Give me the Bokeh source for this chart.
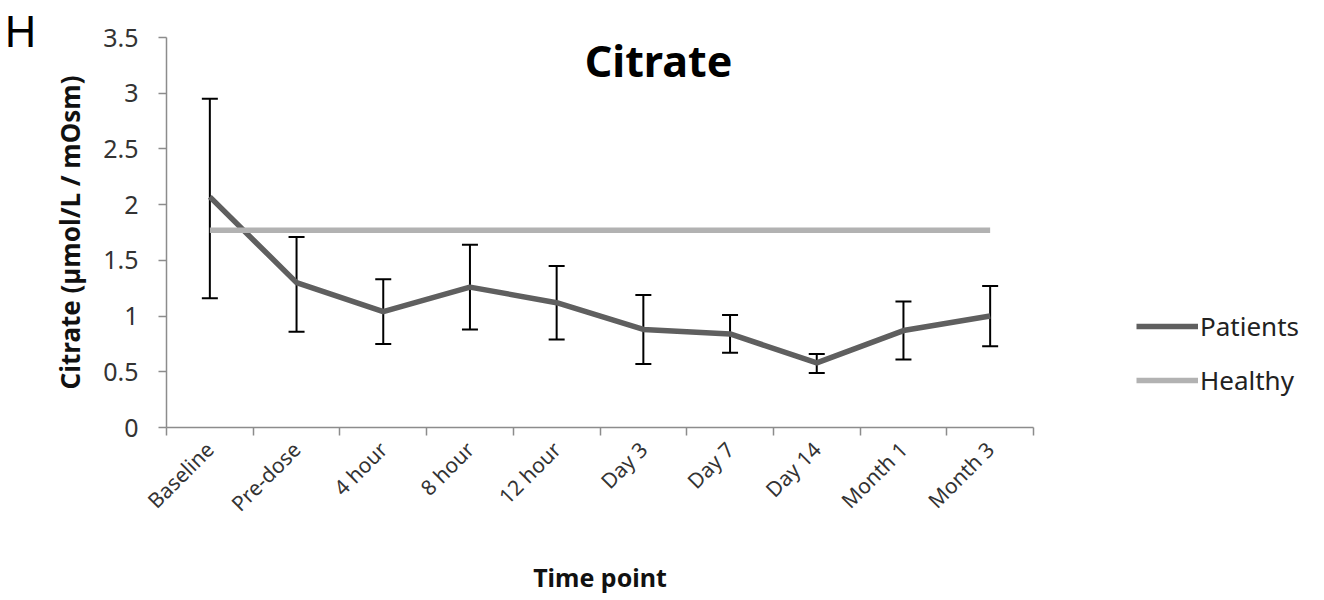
import numpy as np
from bokeh.plotting import figure
from bokeh.models import (ColumnDataSource, Range1d, FixedTicker, Whisker, TeeHead,
                          Label, Legend, LegendItem)
from bokeh.embed import file_html
from bokeh.resources import INLINE

categories = ["Baseline", "Pre-dose", "4 hour", "8 hour", "12 hour",
              "Day 3", "Day 7", "Day 14", "Month 1", "Month 3"]
patients = [2.07, 1.30, 1.04, 1.26, 1.12, 0.88, 0.84, 0.58, 0.87, 1.00]
upper = [2.95, 1.71, 1.33, 1.64, 1.45, 1.19, 1.01, 0.66, 1.13, 1.27]
lower = [1.16, 0.86, 0.75, 0.88, 0.79, 0.57, 0.67, 0.49, 0.61, 0.73]
healthy = [1.77] * len(categories)
y_ticks = [0, 0.5, 1, 1.5, 2, 2.5, 3, 3.5]

xpos = list(np.arange(len(categories)) + 0.5)
src = ColumnDataSource(dict(x=xpos, p=patients, up=upper, lo=lower, h=healthy))

p = figure(frame_width=867, frame_height=390, output_backend="svg", toolbar_location=None,
           x_range=Range1d(0, len(categories)), y_range=Range1d(0, 3.5),
           min_border_left=166, min_border_top=37, min_border_bottom=166,
           min_border_right=0)
p.outline_line_color = None
p.grid.visible = False
p.background_fill_color = "white"

font = "Noto Sans"
axis_color = "#8c8c8c"

# y axis
p.yaxis.ticker = FixedTicker(ticks=y_ticks)
p.yaxis.major_label_overrides = {t: ("%g" % t) for t in y_ticks}
p.yaxis.axis_line_color = axis_color
p.yaxis.axis_line_width = 1.5
p.yaxis.major_tick_line_color = axis_color
p.yaxis.major_tick_line_width = 1.5
p.yaxis.major_tick_out = 8
p.yaxis.major_tick_in = 0
p.yaxis.minor_tick_line_color = None
p.yaxis.major_label_text_font = font
p.yaxis.major_label_text_font_size = "25px"
p.yaxis.major_label_text_color = "#333333"
p.yaxis.major_label_standoff = 20
p.yaxis.axis_label = "Citrate (µmol/L / mOsm)"
p.yaxis.axis_label_text_font = font
p.yaxis.axis_label_text_font_style = "bold"
p.yaxis.axis_label_text_font_size = "26px"
p.yaxis.axis_label_text_color = "#111111"
p.yaxis.axis_label_standoff = 12

# x axis
p.xaxis.ticker = FixedTicker(ticks=xpos, minor_ticks=list(range(len(categories) + 1)))
p.xaxis.major_label_overrides = {x: c for x, c in zip(xpos, categories)}
p.xaxis.major_label_orientation = np.pi / 4
p.xaxis.axis_line_color = axis_color
p.xaxis.axis_line_width = 1.5
p.xaxis.major_tick_line_color = None
p.xaxis.minor_tick_line_color = axis_color
p.xaxis.minor_tick_line_width = 1.5
p.xaxis.minor_tick_out = 8
p.xaxis.minor_tick_in = 0
p.xaxis.major_label_text_font = font
p.xaxis.major_label_text_font_size = "21px"
p.xaxis.major_label_text_color = "#333333"
p.xaxis.major_label_standoff = 10
p.xaxis.axis_label = "Time point"
p.xaxis.axis_label_text_font = font
p.xaxis.axis_label_text_font_style = "bold"
p.xaxis.axis_label_text_font_size = "25px"
p.xaxis.axis_label_text_color = "#111111"
p.xaxis.axis_label_standoff = 30

# series
r_pat = p.line("x", "p", source=src, line_color="#5f5f5f", line_width=5.5)
wh = Whisker(source=src, base="x", upper="up", lower="lo", dimension="height",
             line_color="black", line_width=2,
             upper_head=TeeHead(size=16, line_color="black", line_width=2),
             lower_head=TeeHead(size=16, line_color="black", line_width=2))
p.add_layout(wh)
r_hea = p.line("x", "h", source=src, line_color="#b2b2b2", line_width=5.5)

# title
p.add_layout(Label(x=5.675, y=3.29, text="Citrate", text_font=font, text_font_style="bold",
                   text_font_size="43px", text_align="center", text_baseline="middle",
                   text_color="#000000"))

# panel letter, placed in the left border panel so it is not clipped by the frame
p.add_layout(Label(x=4, y=398, x_units="screen", y_units="screen", text="H",
                   text_font=font, text_font_size="44px",
                   text_align="center", text_baseline="middle", text_color="#000000"),
             "left")

legend = Legend(items=[LegendItem(label="Patients", renderers=[r_pat]),
                       LegendItem(label="Healthy", renderers=[r_hea])],
                location=(103, 29), glyph_width=62, glyph_height=24, label_standoff=2,
                spacing=18, label_text_font=font, label_text_font_size="26px",
                label_text_color="#222222", border_line_color=None,
                background_fill_alpha=0, padding=0, margin=0)
p.add_layout(legend, "right")

open("out.html", "w").write(file_html(p, INLINE))
